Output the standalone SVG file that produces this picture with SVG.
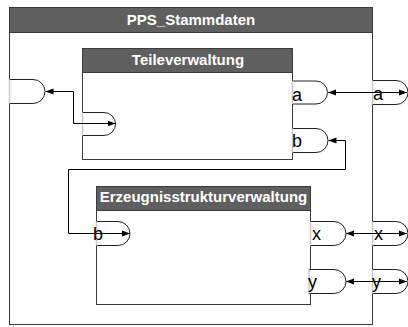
<svg xmlns="http://www.w3.org/2000/svg" width="408" height="327" viewBox="0 0 408 327">
  <style>
    .box { fill: #ffffff; stroke: #3a3a3a; stroke-width: 1; }
    .head { fill: #5f5f5f; stroke: #3a3a3a; stroke-width: 1; }
    .title { font-family: "Liberation Sans", Arial, sans-serif; font-weight: bold; font-size: 15px; fill: #ffffff; text-anchor: middle; }
    .port { fill: #ffffff; stroke: #222222; stroke-width: 1; }
    .portedge { stroke: #c8c8c8; stroke-width: 1.5; }
    .plabel { font-family: "Liberation Sans", Arial, sans-serif; font-size: 18px; fill: #000000; }
    .wire { fill: none; stroke: #000000; stroke-width: 1; }
  </style>
  <defs>
    <marker id="arr" viewBox="0 0 8 8" refX="8" refY="4" markerWidth="8" markerHeight="8" markerUnits="userSpaceOnUse" orient="auto-start-reverse">
      <path d="M0,1 L8,4 L0,7 Z" fill="#000000"/>
    </marker>
  </defs>

  <!-- enclosing package -->
  <g id="pps_stammdaten">
    <rect class="box" x="9.5" y="7.5" width="363" height="317"/>
    <rect class="head" x="9.5" y="7.5" width="363" height="25"/>
    <text class="title" x="191" y="25">PPS_Stammdaten</text>
    <!-- boundary port, left -->
    <path class="port" d="M9.5,79.5 H33 A12,12 0 0 1 33,103.5 H9.5"/>
    <line class="portedge" x1="9.5" y1="79.5" x2="9.5" y2="103.5"/>
    <!-- boundary port a -->
    <path class="port" d="M372.5,80.5 H396 A12,12 0 0 1 396,104.5 H372.5"/>
    <line class="portedge" x1="372.5" y1="80.5" x2="372.5" y2="104.5"/>
    <text class="plabel" x="373" y="100">a</text>
    <!-- boundary port x -->
    <path class="port" d="M372.5,221.5 H396 A12,12 0 0 1 396,245.5 H372.5"/>
    <line class="portedge" x1="372.5" y1="221.5" x2="372.5" y2="245.5"/>
    <text class="plabel" x="374" y="240">x</text>
    <!-- boundary port y -->
    <path class="port" d="M372.5,269.5 H396 A12,12 0 0 1 396,293.5 H372.5"/>
    <line class="portedge" x1="372.5" y1="269.5" x2="372.5" y2="293.5"/>
    <text class="plabel" x="372" y="288">y</text>
  </g>

  <!-- component Teileverwaltung -->
  <g id="teileverwaltung">
    <rect class="box" x="82.5" y="48.5" width="210" height="111"/>
    <rect class="head" x="82.5" y="48.5" width="210" height="24"/>
    <text class="title" x="188" y="65">Teileverwaltung</text>
    <!-- inner port, left -->
    <path class="port" d="M82.5,112.5 H104 A11.5,11.5 0 0 1 104,135.5 H82.5"/>
    <line class="portedge" x1="82.5" y1="112.5" x2="82.5" y2="135.5"/>
    <!-- port a -->
    <path class="port" d="M292.5,81 H316 A11.5,11.5 0 0 1 316,104 H292.5"/>
    <line class="portedge" x1="292.5" y1="81" x2="292.5" y2="104"/>
    <text class="plabel" x="292" y="101">a</text>
    <!-- port b -->
    <path class="port" d="M292.5,128.5 H316 A12,12 0 0 1 316,152.5 H292.5"/>
    <line class="portedge" x1="292.5" y1="128.5" x2="292.5" y2="152.5"/>
    <text class="plabel" x="292" y="147">b</text>
  </g>

  <!-- component Erzeugnisstrukturverwaltung -->
  <g id="erzeugnisstrukturverwaltung">
    <rect class="box" x="96.5" y="186.5" width="214" height="118"/>
    <rect class="head" x="96.5" y="186.5" width="214" height="24"/>
    <text class="title" x="203.5" y="202">Erzeugnisstrukturverwaltung</text>
    <!-- port b (required) -->
    <path class="port" d="M96.5,221.5 H118 A12,12 0 0 1 118,245.5 H96.5"/>
    <line class="portedge" x1="96.5" y1="221.5" x2="96.5" y2="245.5"/>
    <text class="plabel" x="93" y="240">b</text>
    <!-- port x -->
    <path class="port" d="M310.5,221.5 H334 A12,12 0 0 1 334,245.5 H310.5"/>
    <line class="portedge" x1="310.5" y1="221.5" x2="310.5" y2="245.5"/>
    <text class="plabel" x="312" y="240">x</text>
    <!-- port y -->
    <path class="port" d="M309,269.5 H334 A12,12 0 0 1 334,293.5 H309"/>
    <line class="portedge" x1="309" y1="269.5" x2="309" y2="293.5"/>
    <text class="plabel" x="308" y="288">y</text>
  </g>

  <!-- connectors -->
  <g id="connectors">
    <path class="wire" d="M328,92.5 H407" marker-start="url(#arr)" marker-end="url(#arr)"/>
    <path class="wire" d="M45.5,91.5 H73.5 V123.5 H115.5" marker-start="url(#arr)" marker-end="url(#arr)"/>
    <path class="wire" d="M328.5,140.5 H345.5 V169.5 H68.5 V233.5 H130" marker-start="url(#arr)" marker-end="url(#arr)"/>
    <path class="wire" d="M346,233.5 H407" marker-start="url(#arr)" marker-end="url(#arr)"/>
    <path class="wire" d="M346,281.5 H407" marker-start="url(#arr)" marker-end="url(#arr)"/>
  </g>
</svg>
